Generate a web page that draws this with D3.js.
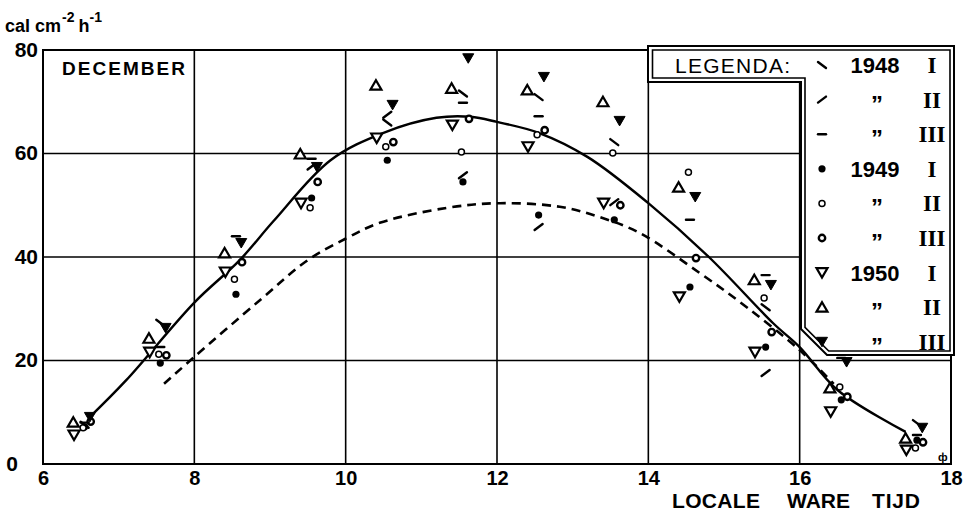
<!DOCTYPE html>
<html>
<head>
<meta charset="utf-8">
<script src="https://cdn.jsdelivr.net/npm/d3@7"></script>
<style>
  body { margin: 0; background: #fff; }
  text { font-family: "Liberation Sans", Arial, sans-serif; fill: #000; }
</style>
</head>
<body>
<svg id="chart" width="964" height="512"></svg>
<script>
// hourly means, December, at the half hour
const hours = [6.5, 7.5, 8.5, 9.5, 10.5, 11.5, 12.5, 13.5, 14.5, 15.5, 16.5, 17.5];

const y1948I   = [7.6, 27.3, null, null, 66, 71.6, 70.9, 62.2, null, 30.3, null, 7.9];
const y1948II  = [null, null, null, 57.5, 67.5, 55.8, 45.8, 50.6, null, 17.6, null, null];
const y1948III = [8, 22.6, 44, 59, null, 69.8, 67.2, null, 47.2, 36.5, 20.5, 5.6];
const y1949I   = [7.2, 19.5, 32.8, 51.4, 58.7, 54.5, 48.1, 47.2, 34.2, 22.6, 12.4, 4.6];
const y1949II  = [7, 21.2, 35.7, 49.5, 61.3, 60.3, 63.6, 60.1, 56.4, 32.1, 14.9, 3.1];
const y1949III = [8.2, 21, 39, 54.5, 62.2, 66.7, 64.5, 50, 39.8, 25.5, 13, 4.2];
const y1950I   = [5.6, 21.6, 37.1, 50.4, 63, 65.5, 61.3, 50.4, 32.3, 21.6, 10.1, 2.7];
const y1950II  = [8.1, 24.3, 40.8, 59.9, 73.2, 72.6, 72.3, 70, 53.5, 35.6, 14.7, 5];
const y1950III = [9.1, 26.3, 42.7, 57.4, 69.4, 78.4, 74.8, 66.3, 51.6, 34.6, 19.7, 7];

// the two drawn curves
const solidCurve = [[6.62, 9.1], [7.1, 16.2], [8, 31.2], [8.6, 39.4], [9.05, 47], [9.8, 58.7],
  [10.5, 64], [11.2, 66.9], [11.65, 67.1], [12.0, 66.1], [12.55, 64], [13.2, 59.3], [14, 50.4],
  [14.8, 40], [15.65, 27.2], [16, 22.6], [16.5, 14.3], [17.4, 6.2]];
const dashedCurve = [[7.6, 15.5], [8, 20.7], [8.87, 31.7], [9.5, 39.4], [10.02, 43.7], [10.45, 46.6],
  [11.34, 49.5], [12.04, 50.4], [12.83, 49.7], [13.36, 47.7], [13.89, 44.6], [14.68, 36.9],
  [15.3, 30.3], [16, 22.0], [16.45, 15.5]];

const xTicks = [6, 8, 10, 12, 14, 16, 18];
const yTicks = [0, 20, 40, 60, 80];

const legendYears   = ["1948", "\u201D", "\u201D", "1949", "\u201D", "\u201D", "1950", "\u201D", "\u201D"];
const legendPeriods = ["I", "II", "III", "I", "II", "III", "I", "II", "III"];

const series = [
  { values: y1948I,   sym: "bslash", dx: 0.05 },
  { values: y1948II,  sym: "slash",  dx: 0.05 },
  { values: y1948III, sym: "hdash",  dx: 0.05 },
  { values: y1949I,   sym: "dot",    dx: 0.05 },
  { values: y1949II,  sym: "ring",   dx: 0.03 },
  { values: y1949III, sym: "ringdot", dx: 0.13 },
  { values: y1950I,   sym: "tridown", dx: -0.09 },
  { values: y1950II,  sym: "triup",  dx: -0.1 },
  { values: y1950III, sym: "tridownfill", dx: 0.12 }
];

const svg = d3.select("#chart");
const x = d3.scaleLinear().domain([6, 18]).range([43, 951]);
const y = d3.scaleLinear().domain([0, 80]).range([464, 50]);

// grid
svg.append("g").selectAll("line.v")
  .data(xTicks.slice(1, -1)).enter().append("line")
  .attr("x1", d => x(d)).attr("x2", d => x(d))
  .attr("y1", y(0)).attr("y2", y(80))
  .attr("stroke", "#000").attr("stroke-width", 1.6);
svg.append("g").selectAll("line.h")
  .data(yTicks.slice(1, -1)).enter().append("line")
  .attr("x1", x(6)).attr("x2", x(18))
  .attr("y1", d => y(d)).attr("y2", d => y(d))
  .attr("stroke", "#000").attr("stroke-width", 1.6);
svg.append("rect")
  .attr("x", x(6)).attr("y", y(80))
  .attr("width", x(18) - x(6)).attr("height", y(0) - y(80))
  .attr("fill", "none").attr("stroke", "#000").attr("stroke-width", 2);

// axes labels
const xAxis = svg.append("g").attr("transform", "translate(0," + (y(0) + 6) + ")")
  .call(d3.axisBottom(x).tickValues(xTicks).tickSize(0).tickPadding(0).tickFormat(d3.format("d")));
xAxis.select(".domain").remove();
xAxis.selectAll("text").style("font-size", "20px").style("font-family", "Liberation Sans, Arial")
  .style("font-weight", "bold").attr("dy", "0.75em");

const yAxis = svg.append("g").attr("transform", "translate(" + (x(6) - 5) + ",0)")
  .call(d3.axisLeft(y).tickValues(yTicks).tickSize(0).tickPadding(0));
yAxis.select(".domain").remove();
yAxis.selectAll("text").style("font-size", "21px").style("font-family", "Liberation Sans, Arial")
  .style("font-weight", "bold").attr("dy", "0.3em")
  .attr("x", d => d === 0 ? -20 : 0);

// unit label
const unit = svg.append("text").attr("x", 5).attr("y", 32)
  .style("font-size", "18px").style("font-weight", "bold");
unit.append("tspan").text("cal cm");
unit.append("tspan").attr("dx", 1).attr("dy", -10).style("font-size", "14px").text("-2");
unit.append("tspan").attr("dx", 4).attr("dy", 10).text("h");
unit.append("tspan").attr("dy", -10).style("font-size", "14px").text("-1");

svg.append("text").attr("x", 62).attr("y", 75).attr("textLength", 123)
  .style("font-size", "19px").style("font-weight", "bold").text("DECEMBER");

svg.append("text").attr("x", 672).attr("y", 508).attr("textLength", 88)
  .style("font-size", "21px").style("font-weight", "bold").text("LOCALE");
svg.append("text").attr("x", 787).attr("y", 508).attr("textLength", 63)
  .style("font-size", "21px").style("font-weight", "bold").text("WARE");
svg.append("text").attr("x", 872).attr("y", 508).attr("textLength", 48)
  .style("font-size", "21px").style("font-weight", "bold").text("TIJD");
svg.append("text").attr("x", 938).attr("y", 461).style("font-size", "11px").style("font-weight", "bold").text("ф");

// symbols
function drawSymbol(g, sym, cx, cy) {
  if (sym === "bslash" || sym === "slash" || sym === "hdash") {
    const k = sym === "bslash" ? 3 : sym === "slash" ? -3 : 0;
    g.append("line").attr("x1", cx - 4).attr("y1", cy - k).attr("x2", cx + 4).attr("y2", cy + k)
      .attr("stroke", "#000").attr("stroke-width", 2.4).attr("stroke-linecap", "round");
  } else if (sym === "dot") {
    g.append("circle").attr("cx", cx).attr("cy", cy).attr("r", 3.6).attr("fill", "#000");
  } else if (sym === "ring") {
    g.append("circle").attr("cx", cx).attr("cy", cy).attr("r", 3).attr("fill", "#fff")
      .attr("stroke", "#000").attr("stroke-width", 1.5);
  } else if (sym === "ringdot") {
    g.append("circle").attr("cx", cx).attr("cy", cy).attr("r", 3.2).attr("fill", "#fff")
      .attr("stroke", "#000").attr("stroke-width", 2.4);
  } else {
    const up = sym === "triup";
    const pts = up
      ? [[cx - 5.5, cy + 4.5], [cx + 5.5, cy + 4.5], [cx, cy - 5]]
      : [[cx - 5.5, cy - 4.5], [cx + 5.5, cy - 4.5], [cx, cy + 5]];
    const filled = sym === "tridownfill";
    g.append("path").attr("d", "M" + pts.join("L") + "Z")
      .attr("fill", filled ? "#000" : "#fff").attr("stroke", "#000")
      .attr("stroke-width", filled ? 1 : 2.2).attr("stroke-linejoin", "miter");
  }
}

// curves
const line = d3.line().x(d => x(d[0])).y(d => y(d[1])).curve(d3.curveCatmullRom.alpha(0.5));
svg.append("path").datum(dashedCurve).attr("d", line)
  .attr("fill", "none").attr("stroke", "#000").attr("stroke-width", 2.6)
  .attr("stroke-dasharray", "9,6");
svg.append("path").datum(solidCurve).attr("d", line)
  .attr("fill", "none").attr("stroke", "#000").attr("stroke-width", 2.4);

// points
const pts = svg.append("g");
[3, 4, 5, 0, 1, 2, 6, 7, 8].forEach(si => {
  const s = series[si];
  s.values.forEach((v, i) => {
    if (v == null) return;
    drawSymbol(pts, s.sym, x(hours[i] + s.dx), y(v));
  });
});

// legend box with double border
const outer = [[648, 46], [954, 46], [954, 355], [827, 355], [801, 329], [801, 82], [648, 82]];
const inner = [[652.5, 50], [950, 50], [950, 351], [828.7, 351], [805, 327.3], [805, 78], [652.5, 78]];
const leg = svg.append("g");
leg.append("path").attr("d", "M" + outer.join("L") + "Z").attr("fill", "#fff")
  .attr("stroke", "#000").attr("stroke-width", 2);
leg.append("path").attr("d", "M" + inner.join("L") + "Z").attr("fill", "none")
  .attr("stroke", "#000").attr("stroke-width", 1.6);

leg.append("text").attr("x", 675).attr("y", 73).attr("textLength", 115)
  .style("font-size", "21px").text("LEGENDA:");

legendYears.forEach((yr, i) => {
  const ry = 65 + i * 34.6;
  drawSymbol(leg, series[i].sym, 822, ry);
  if (yr === "\u201D") {
    leg.append("text").attr("x", 877).attr("y", ry + 13).attr("text-anchor", "middle")
      .style("font-size", "24px").style("font-weight", "bold").text(yr);
  } else {
    leg.append("text").attr("x", 875).attr("y", ry + 8).attr("text-anchor", "middle")
      .style("font-size", "22px").style("font-weight", "bold").text(yr);
  }
  leg.append("text").attr("x", 932).attr("y", ry + 8).attr("text-anchor", "middle")
    .style("font-family", "Liberation Serif, serif").style("font-size", "23px")
    .style("font-weight", "bold").text(legendPeriods[i]);
});
</script>
</body>
</html>
